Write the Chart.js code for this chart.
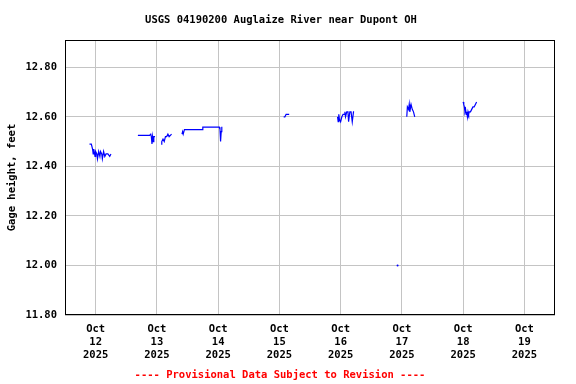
<!DOCTYPE html>
<html>
<head>
<meta charset="utf-8">
<script src="https://cdn.jsdelivr.net/npm/chart.js@4/dist/chart.umd.min.js"></script>
<style>
  html, body { margin: 0; padding: 0; background: #fff; }
  #wrap { width: 576px; height: 384px; }
</style>
</head>
<body>
<div id="wrap"><canvas id="myChart" width="576" height="384"></canvas></div>
<script>
'use strict';

// days since Oct 12 2025 00:00 (null = gap in record)
const days = [
  -0.10, -0.07, -0.05, -0.04, -0.03, -0.01, 0.00, 0.02, 0.03, 0.05, 0.07, 0.08, 0.10, 0.11, 0.13, 0.15, 0.17, 0.20, 0.23, 0.25,
  0.40,
  0.69, 0.75, 0.80, 0.88, 0.90, 0.91, 0.92, 0.93, 0.94, 0.95, 0.97,
  1.02,
  1.07, 1.08, 1.10, 1.12, 1.14, 1.16, 1.18, 1.20, 1.24,
  1.32,
  1.41, 1.42, 1.43, 1.45, 1.60, 1.74, 1.75, 1.95, 2.02, 2.03, 2.04, 2.05, 2.06,
  2.50,
  3.07, 3.09, 3.11, 3.13, 3.16,
  3.50,
  3.95, 3.96, 3.97, 3.98, 4.00, 4.02, 4.04, 4.06, 4.07, 4.08, 4.10, 4.12, 4.13, 4.15, 4.17, 4.19, 4.21, 4.22,
  4.60,
  4.93,
  5.00,
  5.08, 5.09, 5.11, 5.12, 5.13, 5.15, 5.17, 5.19, 5.21,
  5.60,
  6.00, 6.01, 6.02, 6.03, 6.04, 6.05, 6.06, 6.07, 6.08, 6.09, 6.10, 6.12, 6.14, 6.16, 6.18, 6.20, 6.22
];

const gageHeight = [
  12.49, 12.49, 12.47, 12.45, 12.47, 12.44, 12.46, 12.45, 12.43, 12.46, 12.44, 12.46, 12.45, 12.43, 12.46, 12.44, 12.45, 12.45, 12.44, 12.45,
  null,
  12.525, 12.525, 12.525, 12.525, 12.53, 12.52, 12.49, 12.52, 12.50, 12.52, 12.52,
  null,
  12.49, 12.50, 12.51, 12.50, 12.52, 12.52, 12.53, 12.52, 12.53,
  null,
  12.53, 12.54, 12.53, 12.548, 12.548, 12.548, 12.558, 12.558, 12.558, 12.55, 12.50, 12.54, 12.56,
  null,
  12.60, 12.60, 12.61, 12.61, 12.61,
  null,
  12.60, 12.58, 12.61, 12.59, 12.58, 12.60, 12.61, 12.61, 12.62, 12.60, 12.62, 12.62, 12.58, 12.62, 12.62, 12.58, 12.62, 12.62,
  null,
  12.00,
  null,
  12.60, 12.64, 12.63, 12.65, 12.62, 12.65, 12.63, 12.62, 12.60,
  null,
  12.66, 12.65, 12.64, 12.62, 12.63, 12.61, 12.62, 12.60, 12.62, 12.61, 12.62, 12.62, 12.63, 12.64, 12.64, 12.65, 12.66
];

const dayLabels = ['12', '13', '14', '15', '16', '17', '18', '19'];
const yTicks = [11.80, 12.00, 12.20, 12.40, 12.60, 12.80];

const titleText = 'USGS 04190200 Auglaize River near Dupont OH';
const footText = '---- Provisional Data Subject to Revision ----';
const fontFam = "'DejaVu Sans Mono', 'Liberation Mono', monospace";

const points = days.map((d, i) => ({ x: d, y: gageHeight[i] }));

const textPlugin = {
  id: 'usgsText',
  afterDraw(chart) {
    const c = chart.ctx;
    const area = chart.chartArea;
    c.save();
    c.font = 'bold 10.5px ' + fontFam;
    c.textAlign = 'center';
    c.textBaseline = 'middle';
    c.fillStyle = '#000';
    c.fillText(titleText, 281, 20);
    c.fillStyle = '#ff0000';
    c.fillText(footText, 280, 375);
    // plot frame
    c.strokeStyle = '#000';
    c.lineWidth = 1;
    c.strokeRect(area.left + 0.5, area.top + 0.5, area.right - area.left - 1, area.bottom - area.top - 1);
    c.restore();
  }
};

const ctx = document.getElementById('myChart').getContext('2d');
const myChart = new Chart(ctx, {
  type: 'line',
  data: {
    datasets: [{
      label: 'Gage height',
      data: points,
      borderColor: '#0000ff',
      backgroundColor: '#0000ff',
      borderWidth: 1.2,
      spanGaps: false,
      tension: 0,
      pointRadius: (c) => {
        const i = c.dataIndex;
        const prev = gageHeight[i - 1];
        const next = gageHeight[i + 1];
        return (gageHeight[i] !== null && prev == null && next == null) ? 1 : 0;
      },
      pointBorderWidth: 0,
      pointHoverRadius: 0
    }]
  },
  options: {
    responsive: false,
    animation: false,
    layout: { padding: { top: 40, left: 0, right: 21, bottom: 0 } },
    plugins: {
      legend: { display: false },
      title: { display: false },
      tooltip: { enabled: false }
    },
    scales: {
      x: {
        type: 'linear',
        min: -0.5,
        max: 7.5,
        grid: { color: '#c4c4c4', drawTicks: false, lineWidth: 1 },
        border: { display: false },
        afterFit: (scale) => { scale.height = 69; },
        afterBuildTicks: (scale) => {
          scale.ticks = dayLabels.map((_, i) => ({ value: i }));
        },
        ticks: {
          autoSkip: false,
          maxRotation: 0,
          padding: 8,
          color: '#000',
          font: { family: fontFam, size: 10.5, weight: 'bold', lineHeight: 1.24 },
          callback: (v) => ['Oct', dayLabels[Math.round(v)], '2025']
        }
      },
      y: {
        min: 11.80,
        max: 12.91,
        grid: { color: '#c4c4c4', drawTicks: false, lineWidth: 1 },
        border: { display: false },
        afterFit: (scale) => { scale.width = 65; },
        afterBuildTicks: (scale) => {
          scale.ticks = yTicks.map((v) => ({ value: v }));
        },
        ticks: {
          padding: 8,
          color: '#000',
          font: { family: fontFam, size: 10.5, weight: 'bold' },
          callback: (v) => Number(v).toFixed(2)
        },
        title: {
          display: true,
          text: 'Gage height, feet',
          color: '#000',
          padding: { top: 6, bottom: 0 },
          font: { family: fontFam, size: 10.5, weight: 'bold' }
        }
      }
    }
  },
  plugins: [textPlugin]
});
</script>
</body>
</html>
